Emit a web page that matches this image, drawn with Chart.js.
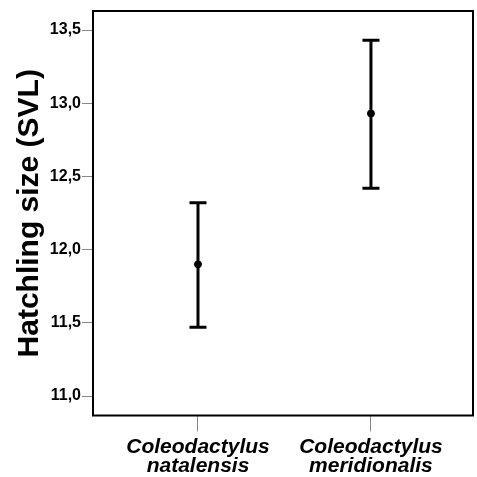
<!DOCTYPE html>
<html>
<head>
<meta charset="utf-8">
<script src="https://cdn.jsdelivr.net/npm/chart.js@4/dist/chart.umd.min.js"></script>
<style>
  html, body { margin: 0; padding: 0; background: #fff; overflow: hidden; }
  #wrap { width: 477px; height: 477px; }
</style>
</head>
<body>
<div id="wrap"><canvas id="hatchChart"></canvas></div>
<script>
const categories = [
  ['Coleodactylus', 'natalensis'],
  ['Coleodactylus', 'meridionalis']
]
const catPos = [1, 2]
const means = [11.90, 12.93]
const lower = [11.47, 12.42]
const upper = [12.32, 13.43]
const yTicks = [11.0, 11.5, 12.0, 12.5, 13.0, 13.5]

const datasets = []

// error bars: vertical line with flat caps at both ends
categories.forEach((c, i) => {
  datasets.push({
    type: 'line',
    data: [{ x: catPos[i], y: lower[i] }, { x: catPos[i], y: upper[i] }],
    borderColor: '#000',
    borderWidth: 3,
    pointStyle: 'line',
    pointRadius: 8.5,
    pointBorderWidth: 3,
    pointBorderColor: '#000',
    fill: false
  })
})

// means
datasets.push({
  type: 'scatter',
  data: means.map((m, i) => ({ x: catPos[i], y: m })),
  backgroundColor: '#000',
  borderColor: '#000',
  pointRadius: 3.5
})

const frame = {
  id: 'frame',
  afterDatasetsDraw(chart) {
    const { ctx, chartArea: a } = chart
    ctx.save()
    ctx.strokeStyle = '#000'
    ctx.lineWidth = 2
    ctx.strokeRect(a.left, a.top, a.right - a.left, a.bottom - a.top)
    ctx.restore()
  }
}

const config = {
  data: { datasets: datasets },
  plugins: [frame],
  options: {
    responsive: true,
    maintainAspectRatio: false,
    animation: false,
    layout: { autoPadding: false, padding: { top: 11, right: 4, left: 0, bottom: 0 } },
    plugins: { legend: { display: false }, tooltip: { enabled: false } },
    scales: {
      x: {
        type: 'linear',
        min: 0.393,
        max: 2.59,
        afterBuildTicks: s => { s.ticks = catPos.map(v => ({ value: v })) },
        afterFit: s => {
          s.height = 61.5
          s.paddingLeft = 0
          s.paddingRight = 0
        },
        ticks: {
          callback: (v) => categories[catPos.indexOf(v)],
          color: '#000',
          padding: 6,
          maxRotation: 0,
          font: { family: 'Liberation Sans', size: 21, weight: 'bold', style: 'italic', lineHeight: 0.92 }
        },
        grid: { drawOnChartArea: false, tickLength: 16, tickColor: '#888', tickWidth: 1 },
        border: { display: false }
      },
      y: {
        min: 10.867,
        max: 13.63,
        afterBuildTicks: s => { s.ticks = yTicks.map(v => ({ value: v })) },
        afterFit: s => { s.width = 93 },
        ticks: {
          callback: v => v.toFixed(1).replace('.', ','),
          color: '#000',
          padding: 1,
          font: { family: 'Liberation Sans', size: 16, weight: 'bold' }
        },
        grid: { drawOnChartArea: false, tickLength: 11, tickColor: '#888', tickWidth: 1 },
        border: { display: false },
        title: {
          display: true,
          text: 'Hatchling size (SVL)',
          color: '#000',
          padding: { top: 12, bottom: 0 },
          font: { family: 'Liberation Sans', size: 30, weight: 'bold', lineHeight: 1.2 }
        }
      }
    }
  }
}

const hatchChart = new Chart(
  document.getElementById('hatchChart').getContext('2d'),
  config
)
</script>
</body>
</html>
